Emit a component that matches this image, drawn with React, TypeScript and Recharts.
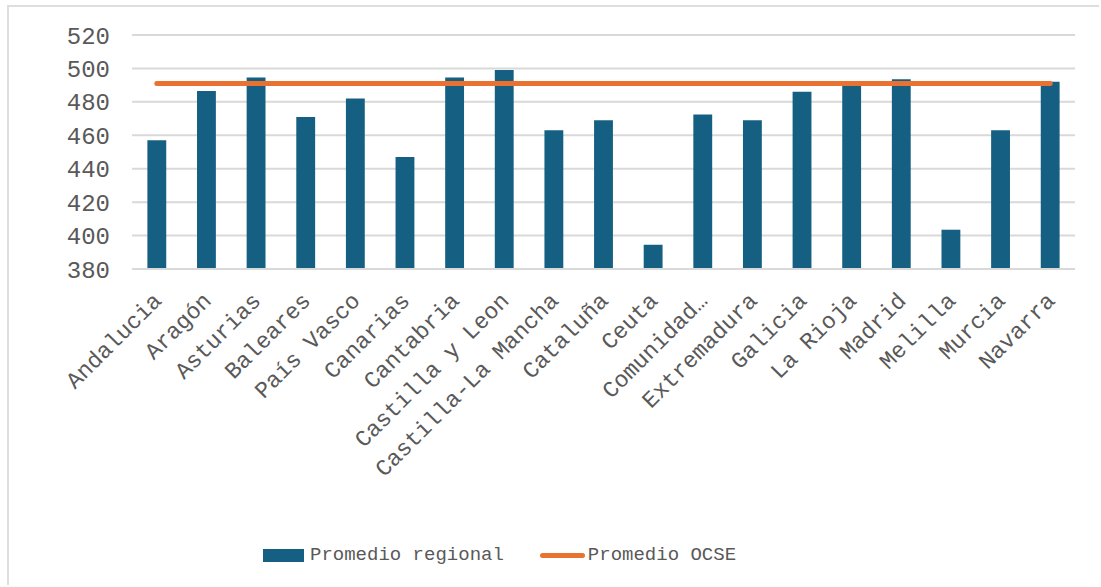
import React from 'react';
import { ComposedChart, Bar, Line, XAxis, YAxis, CartesianGrid, Legend } from 'recharts';

const regions = [
  'Andalucia', 'Aragón', 'Asturias', 'Baleares', 'País Vasco', 'Canarias', 'Cantabria',
  'Castilla y Leon', 'Castilla-La Mancha', 'Cataluña', 'Ceuta', 'Comunidad Valenciana',
  'Extremadura', 'Galicia', 'La Rioja', 'Madrid', 'Melilla', 'Murcia', 'Navarra',
];
const regionalAvg = [457, 486.5, 494.5, 471, 482, 447, 494.5, 499, 463, 469, 394.5, 472.5, 469, 486, 490, 493.5, 403.5, 463, 492];
const ocseAvg = 491;
const yTicks = [380, 400, 420, 440, 460, 480, 500, 520];

const data = regions.map((region, i) => ({ region, regional: regionalAvg[i], ocse: ocseAvg }));

const FONT = '"Liberation Mono", "Courier New", monospace';
const TEXT = '#595959';
const BLUE = '#156082';
const ORANGE = '#E97132';

// long names get cut the way the axis shows them
const shortLabel = (s: string) => (s.length > 18 ? s.slice(0, 9) + '…' : s);

const AngledTick = (props: any) => {
  const { x, y, payload } = props;
  const ax = x + 6;
  const ay = y + 25;
  return (
    <text
      x={ax}
      y={ay}
      transform={`rotate(-45, ${ax}, ${ay})`}
      textAnchor="end"
      fill={TEXT}
      fontFamily={FONT}
      fontSize={23}
    >
      {shortLabel(payload.value)}
    </text>
  );
};

const LegendContent = () => (
  <div style={{ display: 'flex', alignItems: 'center', height: 30, fontFamily: FONT, fontSize: 19, color: TEXT, whiteSpace: 'nowrap' }}>
    <span style={{ display: 'inline-block', width: 41, height: 13, background: BLUE, marginRight: 6 }} />
    <span>Promedio regional</span>
    <span style={{ display: 'inline-block', width: 45, height: 5, borderRadius: 3, background: ORANGE, marginLeft: 36, marginRight: 3 }} />
    <span>Promedio OCSE</span>
  </div>
);

const App: React.FC = () => {
  return (
    <div
      style={{
        position: 'absolute',
        left: 7,
        top: 5,
        width: 1090,
        height: 578,
        borderTop: '2px solid #dedede',
        borderLeft: '2px solid #dedede',
        background: '#fff',
      }}
    >
      <ComposedChart width={1090} height={578} data={data} margin={{ top: 28, right: 24, left: 0, bottom: 0 }} barCategoryGap="69%">
        <CartesianGrid vertical={false} stroke="#d9d9d9" strokeWidth={2} />
        <XAxis
          dataKey="region"
          interval={0}
          height={286}
          axisLine={{ stroke: '#d9d9d9', strokeWidth: 2 }}
          tickLine={false}
          tick={<AngledTick />}
        />
        <YAxis
          domain={[380, 520]}
          ticks={yTicks}
          width={123}
          axisLine={false}
          tickLine={false}
          tickSize={0}
          tickMargin={22}
          tick={{ fill: TEXT, fontFamily: FONT, fontSize: 24 }}
        />
        <Legend content={<LegendContent />} wrapperStyle={{ left: 254, bottom: 15, width: 'auto' }} />
        <Bar dataKey="regional" name="Promedio regional" fill={BLUE} isAnimationActive={false} />
        <Line
          type="linear"
          dataKey="ocse"
          name="Promedio OCSE"
          stroke={ORANGE}
          strokeWidth={5}
          strokeLinecap="round"
          dot={false}
          activeDot={false}
          isAnimationActive={false}
        />
      </ComposedChart>
    </div>
  );
};

export default App;
